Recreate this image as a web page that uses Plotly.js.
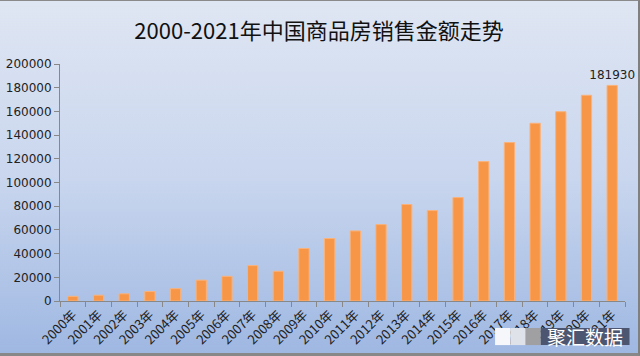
<!DOCTYPE html>
<html>
<head>
<meta charset="utf-8">
<script src="https://cdn.plot.ly/plotly-3.0.1.min.js"></script>
<style>
html,body{margin:0;padding:0;}
#wrap{position:relative;width:640px;height:356px;box-sizing:border-box;
  background:linear-gradient(to bottom,#dfe6f3 0%,#c9d6ee 50%,#9fb8e2 100%);
  border-top:1px solid #8a8a8a;border-right:2px solid #808080;border-bottom:3px solid #888;}
#chart{width:638px;height:352px;}
</style>
</head>
<body>
<div id="wrap"><div id="chart"></div></div>
<script>
const years = ["2000年","2001年","2002年","2003年","2004年","2005年","2006年","2007年","2008年","2009年","2010年","2011年","2012年","2013年","2014年","2015年","2016年","2017年","2018年","2019年","2020年","2021年"];
const sales = [3935,4863,6032,7956,10376,17576,20826,29889,25068,44355,52721,59119,64456,81428,76292,87281,117627,133701,149973,159725,173613,181930];
const yTicks = [0,20000,40000,60000,80000,100000,120000,140000,160000,180000,200000];
const labelText = sales.map((v,i)=> i===sales.length-1 ? String(v) : "");

const trace = {
  type:"bar", x:years, y:sales,
  marker:{color:"#f79646", line:{color:"#fab27a", width:1}},
  width:0.4,
  text:labelText, textposition:"outside", cliponaxis:false, constraintext:"none",
  textfont:{family:"DejaVu Sans, sans-serif", size:12, color:"#222"},
  hoverinfo:"skip"
};
const layout = {
  width:638, height:352,
  paper_bgcolor:"rgba(0,0,0,0)", plot_bgcolor:"rgba(0,0,0,0)",
  margin:{l:60, r:13, t:63, b:52},
  title:{text:"2000-2021年中国商品房销售金额走势", x:0.5, xanchor:"center", y:0.915, yanchor:"middle",
    font:{family:"Noto Sans CJK SC, sans-serif", size:22, color:"#111"}},
  showlegend:false,
  bargap:0.6,
  xaxis:{type:"category", tickangle:-45, ticks:"outside", tickson:"boundaries", ticklen:5, tickcolor:"#888",
    showline:true, linecolor:"#888", linewidth:1, showgrid:false,
    tickfont:{family:"Noto Sans CJK SC, sans-serif", size:13, color:"#222"}},
  yaxis:{range:[0,200000], tickvals:yTicks, ticktext:yTicks.map(String), ticks:"outside", ticklen:5, tickcolor:"#888",
    showline:true, linecolor:"#888", linewidth:1, showgrid:false, zeroline:false,
    tickfont:{family:"DejaVu Sans, sans-serif", size:12, color:"#222"}},
  shapes:[
    {type:"rect", xref:"paper", yref:"paper", x0:0.770, x1:0.797, y0:-0.186, y1:-0.114, fillcolor:"#f5f7fb", line:{width:0}},
    {type:"rect", xref:"paper", yref:"paper", x0:0.797, x1:0.824, y0:-0.186, y1:-0.114, fillcolor:"#dfe2e8", line:{width:0}},
    {type:"rect", xref:"paper", yref:"paper", x0:0.824, x1:0.851, y0:-0.186, y1:-0.114, fillcolor:"#a0a0a2", line:{width:0}},
    {type:"rect", xref:"paper", yref:"paper", x0:0.851, x1:1.008, y0:-0.186, y1:-0.114, fillcolor:"#4d5670", line:{width:0}}
  ],
  annotations:[
    {text:"聚汇数据", xref:"paper", yref:"paper", x:0.93, y:-0.150, xanchor:"center", yanchor:"middle", showarrow:false,
     font:{family:"Noto Sans CJK SC, sans-serif", size:19, color:"#ffffff"}}
  ]
};
Plotly.newPlot("chart",[trace],layout,{displayModeBar:false,staticPlot:true});
</script>
</body>
</html>
